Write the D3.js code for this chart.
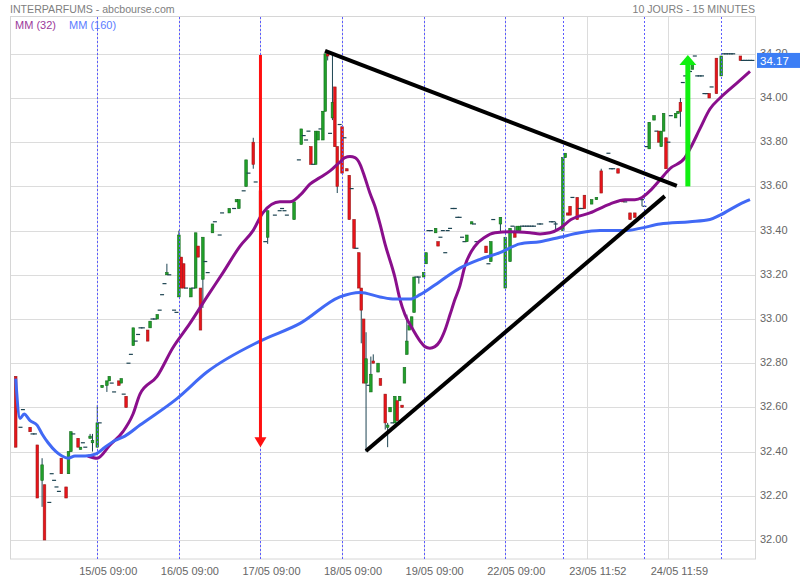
<!DOCTYPE html>
<html><head><meta charset="utf-8">
<script src="https://cdn.jsdelivr.net/npm/d3@7"></script>
<style>body{margin:0;background:#fff}svg{display:block}text{font-family:Arial,"Liberation Sans",sans-serif}</style>
</head><body><svg id="c" width="800" height="580"></svg>
<script>
// ---------------- DATA ----------------
const chartTitle = "INTERPARFUMS - abcbourse.com";
const periodLabel = "10 JOURS - 15 MINUTES";
const legendLabels = ["MM (32)", "MM (160)"];
const yTicks = [32.0, 32.2, 32.4, 32.6, 32.8, 33.0, 33.2, 33.4, 33.6, 33.8, 34.0, 34.2];
const xTickIdx = [34, 68, 102, 136, 170, 204, 238, 272];
const xTickLabels = ["15/05 09:00", "16/05 09:00", "17/05 09:00", "18/05 09:00", "19/05 09:00", "22/05 09:00", "23/05 11:52", "24/05 11:59"];
const dayStarts = [34, 68, 102, 136, 170, 204, 228, 262, 294];
const lastPrice = 34.17;
// candles: [barIndex, open, high, low, close]  or [barIndex, price] for flat bars
const candles = [
 [0,32.74,32.74,32.42,32.42],[2,32.51],[3,32.59],[6,32.51,32.51,32.49,32.49],[7,32.48],[8,32.48],
 [9,32.43,32.43,32.19,32.19],[11,32.27,32.37,32.15,32.34],[12,32.25,32.25,32.00,32.00],[14,32.17],
 [15,32.30],[16,32.27],[17,32.24],[18,32.22],[19,32.37,32.37,32.30,32.30],[21,32.24,32.24,32.19,32.19],
 [22,32.30,32.40,32.30,32.40],[23,32.40,32.49,32.40,32.49],[24,32.48],[26,32.46,32.46,32.42,32.42],
 [27,32.41,32.42,32.41,32.42],[28,32.44],[29,32.42],[31,32.46,32.48,32.46,32.47],[32,32.44,32.48,32.40,32.45],
 [34,32.42,32.61,32.42,32.53],[35,32.53],[36,32.69,32.70,32.69,32.70],[38,32.70,32.72,32.67,32.72],
 [39,32.72,32.74,32.72,32.74],[40,32.71],[41,32.67],[43,32.72,32.72,32.70,32.70],[44,32.71,32.73,32.71,32.73],
 [45,32.66],[46,32.65,32.65,32.60,32.60],[47,32.80],[48,32.84],[49,32.88,32.96,32.88,32.96],[50,32.90],
 [51,32.93],[52,32.96],[53,32.96],[55,32.95,32.95,32.90,32.90],[56,32.96,32.99,32.96,32.99],[57,33.00],
 [58,33.00],[59,33.00,33.02,33.00,33.02],[60,33.04],[61,33.11],[62,33.16],[63,33.20,33.25,33.20,33.21],
 [64,33.20],[66,33.04],[67,33.03],
 [68,33.10,33.40,33.10,33.38],[69,33.28,33.28,33.14,33.14],[70,33.25,33.25,33.14,33.14],[71,33.14],
 [73,33.10,33.14,33.10,33.14],[74,33.14],[75,33.14,33.39,33.14,33.39],[76,33.33,33.33,33.28,33.28],
 [77,33.14,33.14,32.95,32.95],[78,33.18,33.37,33.05,33.37],[79,33.26],[80,33.21],[82,33.39,33.43,33.39,33.43],
 [83,33.44],[85,33.38],[86,33.48],[89,33.48,33.50,33.48,33.50],[91,33.50],[92,33.53,33.54,33.53,33.54],
 [93,33.50,33.54,33.50,33.54],[95,33.58],[96,33.60,33.72,33.60,33.72],[97,33.66],[99,33.80,33.82,33.68,33.70],
 [100,33.62],
 [102,33.58,33.58,33.45,33.45],[104,33.35],[105,33.37,33.49,33.34,33.49],[108,33.47],[110,33.49],[111,33.50],
 [112,33.49],[113,33.47],[116,33.45,33.53,33.45,33.53],[118,33.72],[119,33.79,33.86,33.79,33.86],[120,33.83],
 [121,33.81],[122,33.85],[123,33.78,33.78,33.70,33.70],[124,33.70],[125,33.70,33.85,33.70,33.85],
 [126,33.81,33.85,33.81,33.85],[127,33.86],[128,33.81,33.94,33.81,33.94],[129,33.94,34.20,33.94,34.20],
 [130,34.20,34.20,34.17,34.19],[131,33.84],[132,33.91,34.20,33.90,33.98],[133,34.05,34.05,33.78,33.78],
 [134,33.78,33.78,33.57,33.60],[135,33.88],
 [136,33.87,33.87,33.66,33.66],[137,33.82],[138,33.68,33.68,33.67,33.67],[139,33.65,33.65,33.45,33.45],
 [140,33.59],[141,33.45,33.45,33.32,33.32],[142,33.32],[143,33.30,33.30,33.14,33.14],[144,33.14,33.14,32.89,33.04],
 [145,33.00,33.00,32.71,32.71],[146,32.71,32.94,32.40,32.82],[147,32.70],[148,32.67,32.83,32.67,32.75],
 [149,32.81,32.84,32.80,32.80],[151,32.76,32.80,32.76,32.80],[152,32.73,32.73,32.70,32.70],
 [154,32.66,32.66,32.50,32.53],[155,32.51,32.53,32.42,32.52],[156,32.58,32.60,32.58,32.60],[157,32.53],
 [158,32.53,32.65,32.53,32.65],[159,32.63,32.63,32.54,32.54],[160,32.63,32.65,32.63,32.65],
 [161,32.61,32.61,32.60,32.60],[162,32.71,32.78,32.71,32.78],[163,32.84,33.02,32.84,32.90],
 [164,32.95,32.97,32.95,32.97],[165,32.96,33.01,32.96,33.01],[166,33.03,33.19,33.03,33.19],[167,33.19],
 [168,33.19,33.19,33.16,33.19],
 [170,33.19,33.21,33.19,33.21],[171,33.25,33.30,33.25,33.30],[172,33.40],[173,33.40],[175,33.39,33.41,33.39,33.41],
 [176,33.35,33.35,33.33,33.33],[177,33.37],[178,33.40],[179,33.30],[180,33.40],[181,33.41],[182,33.50],[183,33.50],
 [184,33.46],[185,33.46],[186,33.37],[187,33.35],[188,33.35,33.38,33.35,33.38],[190,33.43,33.44,33.43,33.44],
 [191,33.43],[192,33.35],[196,33.33,33.33,33.30,33.30],[197,33.25],[198,33.26,33.35,33.26,33.35],[199,33.45],
 [202,33.43,33.46,33.39,33.46],
 [204,33.14,33.37,33.14,33.37],[206,33.26,33.41,33.26,33.41],[207,33.42],[208,33.39,33.42,33.37,33.37],
 [209,33.40,33.42,33.40,33.42],[210,33.40,33.42,33.40,33.42],[211,33.42],[212,33.42],[213,33.42],[214,33.42],
 [215,33.42],[216,33.42],[218,33.43],[219,33.43],[223,33.44],[224,33.44],[225,33.43,33.44,33.40,33.43],
 [228,33.40,33.73,33.40,33.73],[229,33.73,33.75,33.73,33.75],[230,33.48,33.48,33.47,33.47],[231,33.51,33.51,33.47,33.47],
 [232,33.55],[234,33.55,33.55,33.45,33.45],[235,33.50],[236,33.50],[237,33.56,33.56,33.50,33.50],
 [240,33.52,33.54,33.52,33.54],[242,33.54,33.55,33.54,33.55],[244,33.67,33.68,33.57,33.57],[247,33.75],
 [248,33.68],[249,33.68],[251,33.68,33.68,33.66,33.66],[253,33.54,33.54,33.53,33.53],[254,33.53],
 [256,33.48,33.48,33.45,33.45],[258,33.48,33.48,33.46,33.46],[261,33.54,33.54,33.51,33.54],
 [262,33.51],[263,33.78],[264,33.77,33.89,33.77,33.89],[266,33.90,33.92,33.90,33.92],[267,33.85],
 [268,33.85,33.85,33.80,33.80],[269,33.78,33.85,33.78,33.85],[270,33.85,33.93,33.85,33.93],
 [271,33.82,33.82,33.68,33.68],[272,33.80],[273,33.92],[275,33.91,33.93,33.91,33.93],[276,33.93,33.94,33.93,33.94],
 [277,33.98,34.00,33.87,33.94],[278,34.07],[279,34.10],[280,34.09],[281,34.12],[282,34.13,34.16,34.13,34.16],
 [283,34.19],[284,34.10],[285,34.10],[286,34.10],[287,34.02],[288,34.02],[289,34.02,34.02,34.00,34.00],
 [290,34.05],[292,34.18,34.18,34.02,34.02],
 [294,34.10,34.19,34.10,34.19],[295,34.20],[296,34.20],[297,34.20],[298,34.20],[299,34.20],
 [302,34.19,34.19,34.17,34.17],[303,34.17],[304,34.17],[305,34.17],[306,34.17],[307,34.17]
];
// moving averages: [barIndex, value]
const mm32 = [
 [30,32.38],[33.9,32.37],[39.3,32.43],[44.7,32.49],[48.9,32.57],[51.8,32.66],[58.9,32.74],[65.5,32.87],
 [72.6,32.98],[79.7,33.10],[86.4,33.21],[93.5,33.33],[98.9,33.40],[103,33.48],[110.1,33.53],[114.3,33.53],
 [118.5,33.56],[122.6,33.61],[126.8,33.64],[131,33.67],[135.1,33.71],[137.2,33.73],[139.3,33.735],[141.4,33.73],
 [143.5,33.70],[145.5,33.64],[147.6,33.57],[149.7,33.51],[151.8,33.43],[153.9,33.34],[158,33.19],[160.1,33.09],
 [162.2,33.02],[165.1,32.96],[168.5,32.90],[170.5,32.875],[172.6,32.868],[174.7,32.875],[176.8,32.90],
 [178.9,32.95],[181,33.02],[183.1,33.09],[185.1,33.15],[187.2,33.24],[191.4,33.33],[195.5,33.37],[199.7,33.39],
 [206,33.395],[214.3,33.39],[218.5,33.385],[222.6,33.39],[226.8,33.41],[231.4,33.45],[239.3,33.48],
 [247.6,33.52],[253.9,33.54],[258,33.54],[261,33.55],[264.3,33.58],[268.5,33.63],[272.6,33.68],[278.9,33.73],
 [281,33.77],[285.1,33.86],[289.3,33.95],[293.5,34.00],[297.6,34.04],[301.8,34.08],[306,34.12]
];
const mm160 = [
 [0,32.73],[1.8,32.55],[3.5,32.57],[6,32.54],[8.9,32.52],[11,32.48],[13.5,32.44],[16.8,32.40],[19.3,32.38],
 [21.8,32.37],[24.7,32.38],[28.9,32.38],[33.5,32.39],[37.2,32.42],[41.4,32.45],[45.5,32.47],[51.8,32.52],
 [67.2,32.64],[79.7,32.76],[101.8,32.90],[118.5,32.98],[135.1,33.10],[143.5,33.12],[151.8,33.10],[158,33.09],
 [164.3,33.09],[168.5,33.11],[176.8,33.17],[185.1,33.23],[193.5,33.27],[201.8,33.30],[210.1,33.34],
 [218.5,33.35],[226.8,33.37],[235.1,33.39],[243.5,33.40],[253.9,33.40],[260.1,33.41],[268.5,33.43],
 [281,33.44],[289.3,33.45],[293.5,33.47],[301.8,33.52],[306,33.54]
];
// hand-drawn annotations in data coordinates: [barIndex, price]
const redArrow = [[102, 34.195], [102, 32.42]];
const greenArrow = [[280.1, 33.60], [280.1, 34.195]];
const upperLine = [[128.9, 34.213], [275.5, 33.602]];
const lowerLine = [[145.96, 32.403], [270.5, 33.556]];

// ---------------- DRAW ----------------
const svg = d3.select("#c");
const L = 10, R = 756, T = 17, B = 559;
const x = d3.scaleLinear().domain([-2.375, 308.5]).range([L, R]);
const y = d3.scaleLinear().domain([32, 34.2]).range([540, 53.8]);

const grid = svg.append("g");
yTicks.forEach(v => {
  grid.append("line").attr("x1", L).attr("x2", R).attr("y1", Math.round(y(v)) + 0.5).attr("y2", Math.round(y(v)) + 0.5)
    .attr("stroke", "#dcdcdc").attr("stroke-width", 1);
});
xTickIdx.forEach(i => {
  const xx = Math.round(x(i)) + 0.5;
  grid.append("line").attr("x1", xx).attr("x2", xx).attr("y1", T).attr("y2", B).attr("stroke", "#dcdcdc");
});
svg.append("rect").attr("x", L + 0.5).attr("y", T - 0.5).attr("width", R - L - 1).attr("height", B - T + 0.5)
  .attr("fill", "none").attr("stroke", "#d6d6d6");

// candles
const cg = svg.append("g");
const green = "#21a02a", greenEdge = "#136b1c", red = "#e8141a", redEdge = "#9a1a1a", wick = "#1d4452";
candles.forEach(r => {
  const [i, o, h, l, c] = r.length === 2 ? [r[0], r[1], r[1], r[1], r[1]] : r;
  const cx = x(i);
  if (h !== l) {
    cg.append("line").attr("x1", cx).attr("x2", cx).attr("y1", y(h)).attr("y2", y(l)).attr("stroke", wick).attr("stroke-width", 1);
  }
  if (o === c) {
    cg.append("line").attr("x1", cx - 2).attr("x2", cx + 2).attr("y1", y(o)).attr("y2", y(o)).attr("stroke", wick).attr("stroke-width", 1.2);
  } else {
    const up = c > o;
    const top = y(Math.max(o, c)), bot = y(Math.min(o, c));
    cg.append("rect").attr("x", cx - 1.3).attr("y", top).attr("width", 2.6).attr("height", Math.max(1.5, bot - top))
      .attr("fill", up ? green : red).attr("stroke", up ? greenEdge : redEdge).attr("stroke-width", 0.6);
  }
});

// day separators
dayStarts.forEach(i => {
  const xx = Math.round(x(i)) + 0.5;
  svg.append("line").attr("x1", xx).attr("x2", xx).attr("y1", T).attr("y2", B)
    .attr("stroke", "#5b5bff").attr("stroke-width", 1).attr("stroke-dasharray", "2,2");
});

// moving averages
const lineGen = d3.line().x(d => x(d[0])).y(d => y(d[1])).curve(d3.curveMonotoneX);
svg.append("path").datum(mm32).attr("d", lineGen).attr("fill", "none").attr("stroke", "#8a0f8c").attr("stroke-width", 3).attr("stroke-linejoin", "round");
svg.append("path").datum(mm160).attr("d", lineGen).attr("fill", "none").attr("stroke", "#4169f5").attr("stroke-width", 3).attr("stroke-linejoin", "round");

// annotations
function seg(pts, color, w) {
  svg.append("line").attr("x1", x(pts[0][0])).attr("y1", y(pts[0][1])).attr("x2", x(pts[1][0])).attr("y2", y(pts[1][1]))
    .attr("stroke", color).attr("stroke-width", w);
}
seg(upperLine, "#000", 4);
seg(lowerLine, "#000", 4);
{
  const ax = x(redArrow[0][0]), y0 = y(redArrow[0][1]), tip = y(redArrow[1][1]);
  svg.append("line").attr("x1", ax).attr("x2", ax).attr("y1", y0).attr("y2", tip - 8).attr("stroke", "#ff1010").attr("stroke-width", 3);
  svg.append("path").attr("d", `M${ax - 6},${tip - 10}L${ax + 6},${tip - 10}L${ax},${tip}Z`).attr("fill", "#ff1010");
}
{
  const ax = x(greenArrow[0][0]), y0 = y(greenArrow[0][1]), tip = y(greenArrow[1][1]);
  svg.append("line").attr("x1", ax).attr("x2", ax).attr("y1", y0).attr("y2", tip + 8).attr("stroke", "#10f010").attr("stroke-width", 5);
  svg.append("path").attr("d", `M${ax - 8.5},${tip + 10}L${ax + 8.5},${tip + 10}L${ax},${tip}Z`).attr("fill", "#10f010");
}

// y axis labels (34.20 sits partly under the last-price box, as in the original)
yTicks.forEach(v => {
  svg.append("text").attr("x", 760).attr("y", Math.round(y(v)) + 2.5).attr("font-size", 11).attr("fill", "#666").text(v.toFixed(2));
});
svg.append("rect").attr("x", 757).attr("y", y(lastPrice) - 7.5).attr("width", 43).attr("height", 15).attr("fill", "#3c7ef5");
svg.append("text").attr("x", 760).attr("y", y(lastPrice) + 4.5).attr("font-size", 11.5).attr("fill", "#fff").text(lastPrice.toFixed(2));

// x axis labels
xTickIdx.forEach((i, k) => {
  svg.append("text").attr("x", x(i) + 11).attr("y", 575).attr("text-anchor", "middle").attr("font-size", 11).attr("fill", "#666").text(xTickLabels[k]);
});

// titles & legend
svg.append("text").attr("x", 10).attr("y", 13).attr("font-size", 10.6).attr("fill", "#808080").text(chartTitle);
svg.append("text").attr("x", 755).attr("y", 13).attr("text-anchor", "end").attr("font-size", 10.6).attr("fill", "#808080").text(periodLabel);
svg.append("text").attr("x", 15).attr("y", 29).attr("font-size", 11).attr("fill", "#9b3a9b").text(legendLabels[0]);
svg.append("text").attr("x", 69).attr("y", 29).attr("font-size", 11).attr("fill", "#5b7cff").text(legendLabels[1]);
</script></body></html>
